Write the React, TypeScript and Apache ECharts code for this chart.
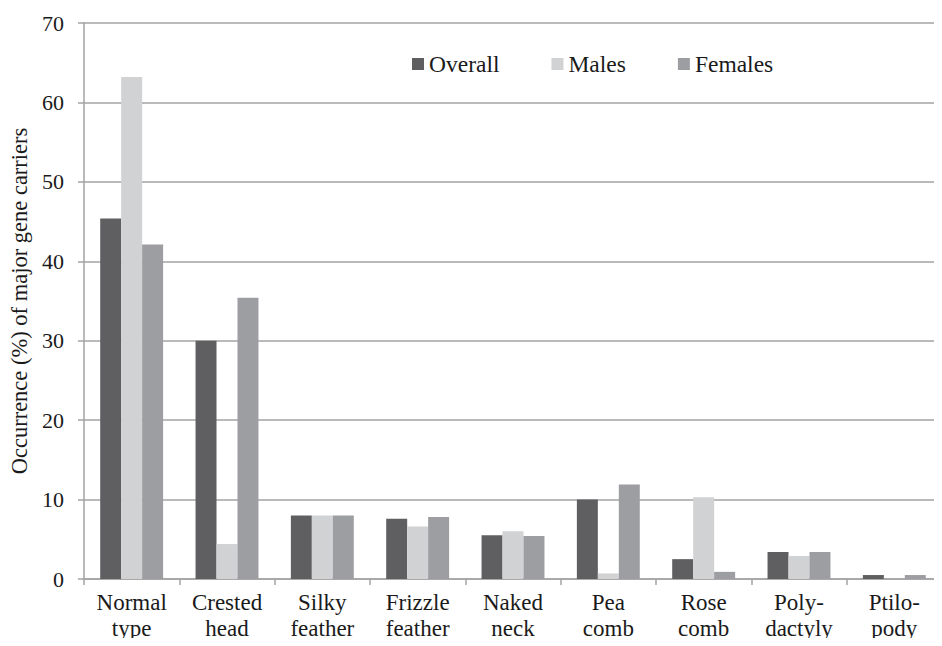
import React, { useEffect, useRef } from "react";
import * as echarts from "echarts";

const categories = [
  "Normal\ntype",
  "Crested\nhead",
  "Silky\nfeather",
  "Frizzle\nfeather",
  "Naked\nneck",
  "Pea\ncomb",
  "Rose\ncomb",
  "Poly-\ndactyly",
  "Ptilo-\npody",
];
const overall = [45.4, 30.0, 8.0, 7.6, 5.5, 10.0, 2.5, 3.4, 0.5];
const males = [63.2, 4.4, 8.0, 6.6, 6.0, 0.7, 10.3, 2.9, 0];
const females = [42.1, 35.4, 8.0, 7.8, 5.4, 11.9, 0.9, 3.4, 0.5];
const yTicks = [0, 10, 20, 30, 40, 50, 60, 70];

const FONT = "Liberation Serif";
const GRID_COLOR = "#a3a3a3";

export default function App() {
  const ref = useRef<HTMLDivElement>(null);
  useEffect(() => {
    if (!ref.current) return;
    const chart = echarts.init(ref.current, undefined, { renderer: "svg" });
    chart.setOption({
      animation: false,
      backgroundColor: "#ffffff",
      textStyle: { fontFamily: FONT },
      legend: {
        left: 407,
        top: 47,
        itemWidth: 12,
        itemHeight: 12,
        itemGap: 52,
        icon: "rect",
        textStyle: { fontFamily: FONT, fontSize: 23.5, color: "#1a1a1a" },
        data: ["Overall", "Males", "Females"],
      },
      grid: { left: 84, right: -10, top: 23, bottom: 67, containLabel: false },
      xAxis: {
        type: "category",
        data: categories,
        axisLine: { show: true, lineStyle: { color: GRID_COLOR, width: 1.5 } },
        axisTick: { show: true, length: 6, lineStyle: { color: GRID_COLOR, width: 1.5 } },
        axisLabel: {
          fontFamily: FONT,
          fontSize: 23,
          color: "#1a1a1a",
          margin: 10,
          lineHeight: 26,
          interval: 0,
        },
      },
      yAxis: {
        type: "value",
        min: yTicks[0],
        max: yTicks[yTicks.length - 1],
        interval: 10,
        name: "Occurrence (%) of major gene carriers",
        nameLocation: "middle",
        nameGap: 50,
        nameTextStyle: { fontFamily: FONT, fontSize: 22.5, color: "#1a1a1a" },
        axisLine: { show: true, lineStyle: { color: GRID_COLOR, width: 1.5 } },
        axisTick: { show: true, length: 6, lineStyle: { color: GRID_COLOR, width: 1.5 } },
        splitLine: { show: true, lineStyle: { color: GRID_COLOR, width: 1.5 } },
        axisLabel: { fontFamily: FONT, fontSize: 22, color: "#1a1a1a", margin: 20 },
      },
      series: [
        {
          name: "Overall",
          type: "bar",
          data: overall,
          barGap: "0%",
          barCategoryGap: "34%",
          itemStyle: { color: "#5f5f62" },
        },
        {
          name: "Males",
          type: "bar",
          data: males,
          barGap: "0%",
          barCategoryGap: "34%",
          itemStyle: { color: "#d1d2d4" },
        },
        {
          name: "Females",
          type: "bar",
          data: females,
          barGap: "0%",
          barCategoryGap: "34%",
          itemStyle: { color: "#9d9ea1" },
        },
      ],
    });
    return () => chart.dispose();
  }, []);
  return <div ref={ref} style={{ width: 942, height: 646, margin: -8 }} />;
}
